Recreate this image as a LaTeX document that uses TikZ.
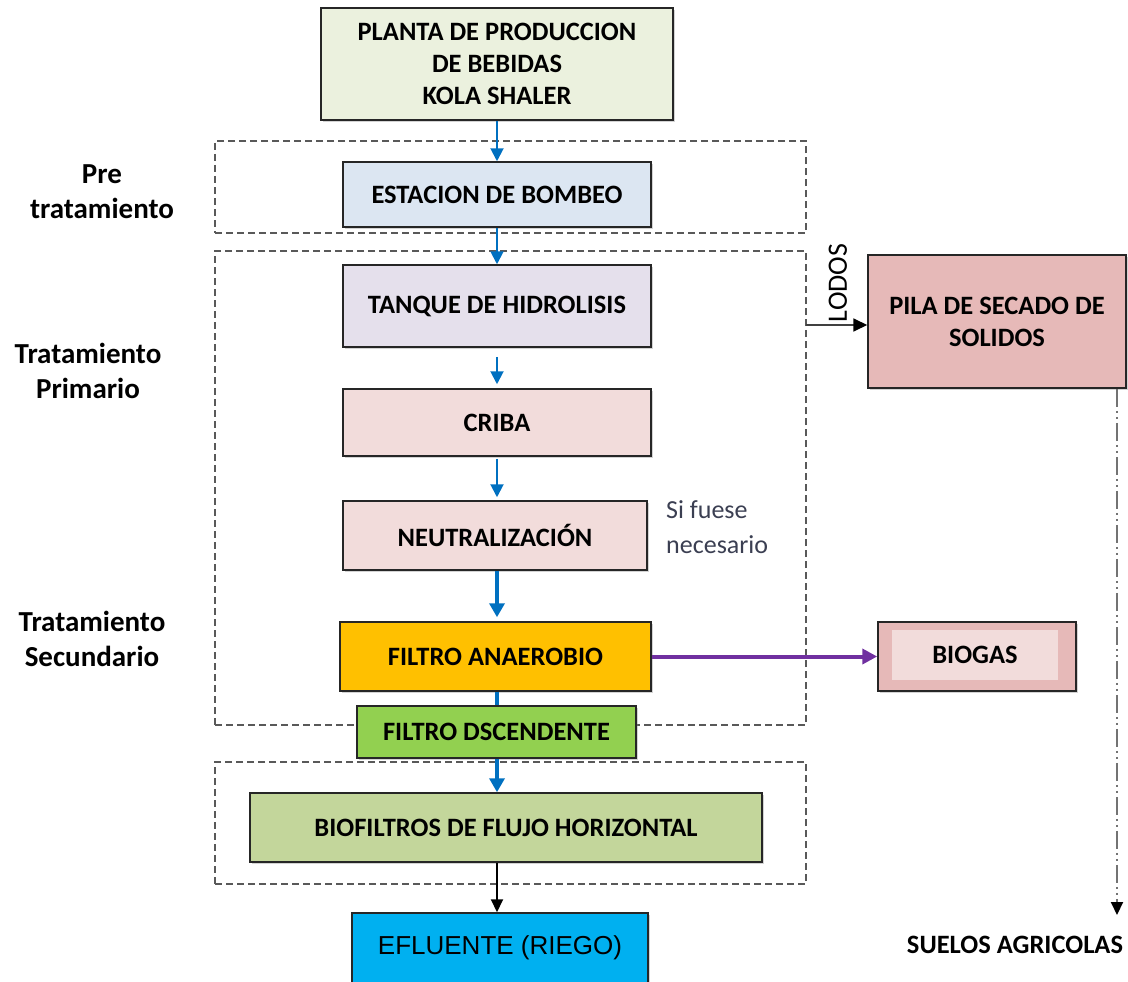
\documentclass[tikz,border=0pt]{standalone}
\usepackage{fontspec}
\setmainfont{Carlito}
\newfontfamily\arialfont{Liberation Sans}
\usetikzlibrary{arrows.meta,shadows}

\definecolor{plantaverde}{HTML}{EBF1DE}
\definecolor{bombeoazul}{HTML}{DCE6F2}
\definecolor{tanquelila}{HTML}{E5E0EC}
\definecolor{rosaclaro}{HTML}{F2DCDB}
\definecolor{rosaoscuro}{HTML}{E6B9B8}
\definecolor{naranja}{HTML}{FFC000}
\definecolor{verdefiltro}{HTML}{92D050}
\definecolor{verdebio}{HTML}{C3D69B}
\definecolor{celeste}{HTML}{00B0F0}
\definecolor{flujoazul}{HTML}{0070C0}
\definecolor{morado}{HTML}{7030A0}
\definecolor{notagris}{HTML}{3B3F52}

\begin{document}
\begin{tikzpicture}[x=1pt, y=-1pt,
    every node/.style={font=\fontsize{26.5}{32}\selectfont\bfseries, align=center, inner sep=0pt},
    caja/.style={draw=black!85, line width=1.5pt, drop shadow={shadow xshift=2pt, shadow yshift=-2pt, opacity=0.35}},
    zona/.style={draw=black!65, line width=1.4pt, dash pattern=on 7pt off 4pt},
    flujo/.style={flujoazul, line width=2pt, -{Triangle[length=13pt, width=13pt]}},
    flujogrueso/.style={flujoazul, line width=3.5pt, -{Triangle[length=14pt, width=15pt]}},
    salida/.style={black, line width=2pt, -{Triangle[length=13pt, width=12pt]}},
    etapa/.style={font=\fontsize{29}{35}\selectfont\bfseries}]
    \useasboundingbox (0,0) rectangle (1128,982);

    % Zonas de tratamiento (recuadros punteados)
    \node[zona, minimum width=591pt, minimum height=92pt]  (zonapre)  at (510.5,187) {};
    \node[zona, minimum width=591pt, minimum height=474pt] (zonaprim) at (510.5,488) {};
    \node[zona, minimum width=591pt, minimum height=122pt] (zonabio)  at (510.5,823) {};

    % Etiquetas de las etapas
    \node[etapa] (pre)  at (102,192) {Pre\\tratamiento};
    \node[etapa] (prim) at (88,371)  {Tratamiento\\Primario};
    \node[etapa] (sec)  at (92,639)  {Tratamiento\\Secundario};

    % Linea principal del proceso
    \node[caja, fill=plantaverde, minimum width=352pt, minimum height=112pt] (planta) at (497,64) {PLANTA DE PRODUCCION\\DE BEBIDAS\\KOLA SHALER};
    \node[caja, fill=bombeoazul, minimum width=308pt, minimum height=65pt] (bombeo) at (497,194.5) {ESTACION DE BOMBEO};
    \node[caja, fill=tanquelila, minimum width=308pt, minimum height=82pt] (tanque) at (497,306) {TANQUE DE HIDROLISIS};
    \node[caja, fill=rosaclaro, minimum width=308pt, minimum height=67pt] (criba) at (497,422.5) {CRIBA};
    \node[caja, fill=rosaclaro, minimum width=304pt, minimum height=69pt] (neutral) at (495,535.5) {NEUTRALIZACIÓN};
    \node[caja, fill=naranja, minimum width=311pt, minimum height=69pt] (anaerobio) at (495.5,656.5) {FILTRO ANAEROBIO};
    \node[caja, fill=verdefiltro, minimum width=279pt, minimum height=52pt] (descendente) at (496.5,732) {FILTRO DSCENDENTE};
    \node[caja, fill=verdebio, minimum width=512pt, minimum height=69pt] (biofiltro) at (506,827.5) {BIOFILTROS DE FLUJO HORIZONTAL};
    \node[caja, fill=celeste, minimum width=296pt, minimum height=70pt, font=\fontsize{26}{30}\selectfont\arialfont] (efluente) at (500,948) {EFLUENTE (RIEGO)};

    \node[anchor=west, align=left, notagris, font=\fontsize{26}{35}\selectfont] (nota) at (666,527) {Si fuese\\necesario};

    % Lodos y biogas
    \node[caja, fill=rosaoscuro, minimum width=258pt, minimum height=133pt] (pila) at (997,321.5) {PILA DE SECADO DE\\SOLIDOS};
    \node[caja, fill=rosaoscuro, minimum width=198pt, minimum height=69pt] (biogas) at (977,656.5) {};
    \node[fill=rosaclaro, minimum width=166pt, minimum height=50pt] (biogasint) at (975,655) {BIOGAS};
    \node[font=\fontsize{28}{30}\selectfont, rotate=90] (lodos) at (838,283) {LODOS};
    \node (suelos) at (1015,945) {SUELOS AGRICOLAS};
    \coordinate (lodosini) at (806,325);
    \coordinate (suelofin) at (1117,915);

    % Flechas
    \draw[flujo] (planta.south -| bombeo) -- (bombeo);
    \draw[flujo] (bombeo) -- (tanque);
    \draw[flujo, shorten <=9pt, shorten >=4pt] (tanque) -- (criba);
    \draw[flujo, shorten <=2pt, shorten >=3pt] (criba) -- (criba |- neutral.north);
    \draw[flujogrueso, shorten >=4pt] (neutral.south -| criba) -- (criba |- anaerobio.north);
    \draw[flujoazul, line width=3.5pt] (anaerobio.south -| criba) -- (criba |- descendente.north);
    \draw[flujogrueso] (descendente.south -| criba) -- (criba |- biofiltro.north);
    \draw[salida] (biofiltro.south -| criba) -- (criba |- efluente.north);
    \draw[morado, line width=4pt, -{Triangle[length=15pt, width=15pt]}] (anaerobio) -- (biogas);
    \draw[black!75, line width=1.8pt, -{Triangle[length=14pt, width=13pt, color=black]}] (lodosini) -- (pila.west |- lodosini);
    \draw[black!55, line width=2pt, dash pattern=on 18pt off 4pt on 2pt off 4pt on 2pt off 4pt, -{Triangle[length=13pt, width=12pt, color=black]}] (pila.south -| suelofin) -- (suelofin);
\end{tikzpicture}
\end{document}
